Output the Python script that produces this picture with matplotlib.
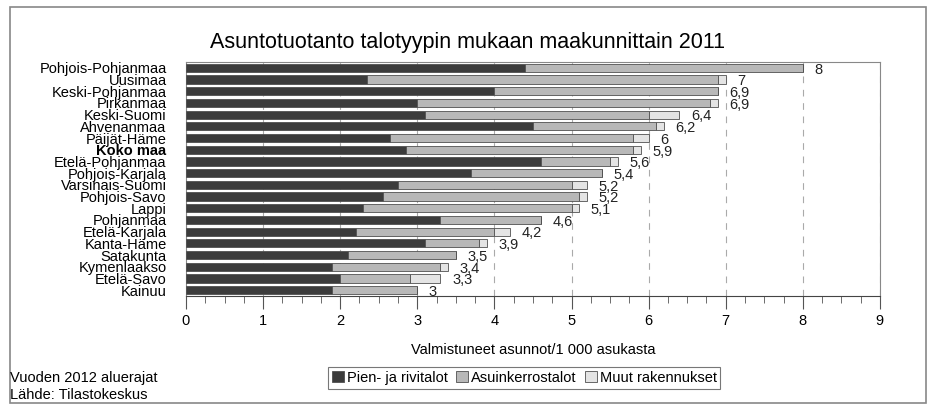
import matplotlib.pyplot as plt
import matplotlib.patches as patches
from matplotlib.ticker import MultipleLocator
import numpy as np

plt.rcParams['font.family'] = ['Liberation Sans', 'DejaVu Sans']

regions = ['Pohjois-Pohjanmaa', 'Uusimaa', 'Keski-Pohjanmaa', 'Pirkanmaa',
           'Keski-Suomi', 'Ahvenanmaa', 'Päijät-Häme', 'Koko maa',
           'Etelä-Pohjanmaa', 'Pohjois-Karjala', 'Varsinais-Suomi',
           'Pohjois-Savo', 'Lappi', 'Pohjanmaa', 'Etelä-Karjala',
           'Kanta-Häme', 'Satakunta', 'Kymenlaakso', 'Etelä-Savo', 'Kainuu']
pien = [4.4, 2.35, 4.0, 3.0, 3.1, 4.5, 2.65, 2.85, 4.6, 3.7, 2.75, 2.55,
        2.3, 3.3, 2.2, 3.1, 2.1, 1.9, 2.0, 1.9]
kerros = [3.6, 4.55, 2.9, 3.8, 2.9, 1.6, 3.15, 2.95, 0.9, 1.7, 2.25, 2.55,
          2.7, 1.3, 1.8, 0.7, 1.4, 1.4, 0.9, 1.1]
muut = [0.0, 0.1, 0.0, 0.1, 0.4, 0.1, 0.2, 0.1, 0.1, 0.0, 0.2, 0.1,
        0.1, 0.0, 0.2, 0.1, 0.0, 0.1, 0.4, 0.0]
totals = ['8', '7', '6,9', '6,9', '6,4', '6,2', '6', '5,9', '5,6', '5,4',
          '5,2', '5,2', '5,1', '4,6', '4,2', '3,9', '3,5', '3,4', '3,3', '3']
series_names = ['Pien- ja rivitalot', 'Asuinkerrostalot', 'Muut rakennukset']

fig = plt.figure(figsize=(9.28, 4.05), dpi=100)
ax = fig.add_axes([0.2004, 0.269, 0.7478, 0.578])

y = np.arange(len(regions))
pien = np.array(pien)
kerros = np.array(kerros)
muut = np.array(muut)
h = 0.7
ec = '#505050'
ax.barh(y, pien, height=h, color='#3c3c3c', edgecolor=ec, linewidth=0.6,
        label=series_names[0], zorder=3)
ax.barh(y, kerros, left=pien, height=h, color='#b8b8b8', edgecolor=ec,
        linewidth=0.6, label=series_names[1], zorder=3)
ax.barh(y, muut, left=pien + kerros, height=h, color='#e4e4e4',
        edgecolor=ec, linewidth=0.6, label=series_names[2], zorder=3)

tot = pien + kerros + muut
for yi, t, s in zip(y, tot, totals):
    ax.text(t + 0.15, yi + 0.15, s, ha='left', va='center', fontsize=10.5,
            color='#222222')

ax.set_xlim(0, 9)
ax.set_ylim(len(regions) - 0.5, -0.5)
ax.set_yticks(y)
ax.set_yticklabels(regions, fontsize=10.5)
for lab in ax.get_yticklabels():
    if lab.get_text() == 'Koko maa':
        lab.set_fontweight('bold')
ax.tick_params(axis='y', length=0, pad=14)
ax.xaxis.set_major_locator(MultipleLocator(1))
ax.xaxis.set_minor_locator(MultipleLocator(0.25))
ax.tick_params(axis='x', which='major', length=9, width=0.8, color='#555555',
               labelsize=10.5, pad=4)
ax.tick_params(axis='x', which='minor', length=5, width=0.6, color='#555555')
ax.grid(axis='x', which='major', linestyle=(0, (6, 6)), color='#aaaaaa',
        linewidth=0.8, zorder=0)
for sp in ax.spines.values():
    sp.set_color('#888888')
    sp.set_linewidth(0.8)
ax.spines['bottom'].set_color('#444444')

ax.set_xlabel('Valmistuneet asunnot/1 000 asukasta', fontsize=10.5,
              labelpad=11)

fig.text(0.504, 0.895, 'Asuntotuotanto talotyypin mukaan maakunnittain 2011',
         ha='center', va='center', fontsize=15.5)

leg = fig.legend(loc='center', bbox_to_anchor=(0.565, 0.067), ncol=3,
                 fontsize=10.5, frameon=True, fancybox=False,
                 handlelength=0.8, handleheight=0.8, handletextpad=0.2,
                 columnspacing=0.6, borderpad=0.25)
leg.get_frame().set_edgecolor('#555555')
leg.get_frame().set_linewidth(0.8)

fig.text(0.011, 0.067, 'Vuoden 2012 aluerajat', ha='left', va='center',
         fontsize=10.5)
fig.text(0.011, 0.025, 'Lähde: Tilastokeskus', ha='left', va='center',
         fontsize=10.5)

fig.patches.append(patches.Rectangle((0.0108, 0.005), 0.987, 0.978,
                                     transform=fig.transFigure, fill=False,
                                     edgecolor='#888888', linewidth=1.2))

fig.savefig('out.png', dpi=100)
